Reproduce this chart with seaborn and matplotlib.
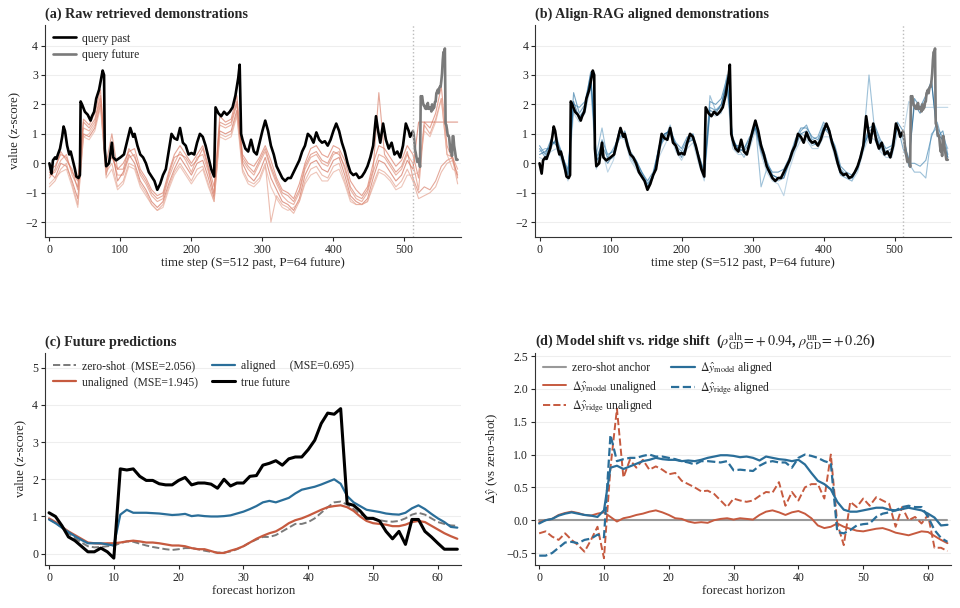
import numpy as np
import matplotlib
matplotlib.use("Agg")
import matplotlib.pyplot as plt
import seaborn as sns

# ---- query series (panels a, b) ----
query_t = [0, 3, 5, 8, 10, 12, 15, 18, 20, 22, 25, 28, 30, 33, 36, 38, 41, 43, 44, 46, 50, 54, 58, 60,
           63, 66, 70, 73, 75, 77, 78, 80, 84, 88, 90, 94, 100, 105, 110, 114, 118, 120, 124, 128,
           132, 136, 140, 144, 148, 152, 156, 160, 164, 168, 172, 176, 180, 184, 188, 192, 196, 200,
           204, 208, 212, 216, 220, 224, 228, 232, 234, 238, 242, 246, 250, 254, 258, 262, 266, 268,
           270, 272, 276, 280, 284, 288, 292, 296, 300, 304, 308, 312, 316, 320, 324, 328, 332, 336,
           340, 344, 348, 352, 356, 360, 364, 368, 372, 376, 380, 384, 388, 392, 396, 400, 404, 408,
           412, 416, 420, 424, 428, 432, 436, 440, 444, 448, 452, 456, 460, 463, 466, 470, 474, 478,
           482, 486, 490, 494, 498, 502, 506, 508, 511]
query_v = [0.0, -0.35, 0.1, 0.2, 0.15, 0.3, 0.5, 0.9, 1.25, 1.1, 0.6, 0.3, 0.4, 0.1, -0.2, -0.45, -0.5,
           -0.4, 2.1, 2.0, 1.75, 1.65, 1.45, 1.6, 1.75, 2.2, 2.5, 2.9, 3.15, 3.0, 0.5, -0.1, 0.0, 0.7,
           0.2, 0.1, 0.2, 0.3, 0.8, 1.2, 0.9, 1.0, 0.6, 0.3, 0.2, 0.0, -0.3, -0.45, -0.6, -0.9, -0.7,
           -0.4, -0.2, 0.4, 1.0, 0.85, 0.8, 1.2, 0.7, 0.6, 0.3, 0.35, 0.3, 0.7, 1.0, 0.9, 0.6, 0.2,
           -0.2, -0.45, 1.9, 1.7, 1.6, 1.75, 1.65, 1.75, 1.9, 2.3, 2.9, 3.35, 1.0, 0.8, 0.5, 0.4, 0.8,
           0.4, 0.3, 0.7, 1.1, 1.45, 1.1, 0.6, 0.3, -0.1, -0.3, -0.5, -0.6, -0.5, -0.5, -0.3, -0.1,
           0.1, 0.4, 0.6, 1.0, 0.9, 0.7, 1.05, 0.8, 0.7, 0.75, 0.6, 0.8, 1.1, 1.35, 1.1, 0.7, 0.4,
           0.0, -0.3, -0.4, -0.35, -0.5, -0.45, -0.3, -0.1, 0.2, 0.6, 1.6, 1.1, 0.7, 1.35, 0.8, 0.5,
           0.7, 0.3, 0.4, 0.2, 0.6, 1.35, 1.1, 0.9, 1.05]

# ---- forecast horizon series (panels c, d) ----
horizon = list(range(64))
true_future = [1.1, 1.0, 0.75, 0.45, 0.35, 0.2, 0.05, 0.05, 0.15, 0.05, -0.12, 2.28, 2.25, 2.28, 2.08,
               1.97, 1.97, 1.88, 1.85, 1.85, 1.97, 2.05, 1.85, 1.9, 1.9, 1.87, 1.76, 2.0, 1.82, 1.9,
               1.9, 2.08, 2.1, 2.38, 2.43, 2.5, 2.38, 2.55, 2.6, 2.6, 2.8, 3.05, 3.5, 3.78, 3.75, 3.9,
               1.35, 1.3, 1.15, 0.95, 0.95, 0.88, 0.6, 0.4, 0.6, 0.25, 0.92, 0.92, 0.6, 0.45, 0.28,
               0.12, 0.12, 0.12]
pred_zero = [0.93, 0.83, 0.7, 0.55, 0.42, 0.3, 0.2, 0.17, 0.18, 0.2, 0.22, 0.28, 0.33, 0.32, 0.27,
             0.22, 0.18, 0.15, 0.12, 0.1, 0.12, 0.15, 0.15, 0.12, 0.08, 0.05, 0.03, 0.03, 0.06, 0.12,
             0.2, 0.3, 0.38, 0.45, 0.45, 0.5, 0.6, 0.7, 0.8, 0.8, 0.85, 0.95, 1.1, 1.25, 1.38, 1.4,
             1.32, 1.2, 1.07, 0.98, 0.93, 0.9, 0.87, 0.86, 0.88, 0.95, 1.05, 1.1, 1.05, 0.95, 0.85,
             0.8, 0.76, 0.75]
pred_unaligned = [0.95, 0.85, 0.72, 0.6, 0.5, 0.4, 0.3, 0.28, 0.27, 0.28, 0.28, 0.3, 0.33, 0.35, 0.33,
                  0.3, 0.3, 0.28, 0.25, 0.22, 0.22, 0.2, 0.15, 0.12, 0.12, 0.07, 0.02, 0.02, 0.08,
                  0.13, 0.2, 0.3, 0.4, 0.48, 0.55, 0.6, 0.7, 0.82, 0.9, 0.95, 1.02, 1.1, 1.18, 1.25,
                  1.28, 1.3, 1.25, 1.15, 1.0, 0.88, 0.82, 0.8, 0.78, 0.74, 0.74, 0.78, 0.85, 0.88,
                  0.85, 0.75, 0.65, 0.55, 0.47, 0.4]
pred_aligned = [0.92, 0.82, 0.7, 0.58, 0.47, 0.37, 0.28, 0.28, 0.28, 0.25, 0.22, 1.05, 1.18, 1.1, 1.1,
                1.1, 1.09, 1.08, 1.06, 1.04, 1.05, 1.07, 1.01, 1.03, 1.01, 1.0, 1.0, 1.01, 1.03, 1.08,
                1.13, 1.2, 1.28, 1.38, 1.42, 1.38, 1.44, 1.5, 1.62, 1.72, 1.76, 1.8, 1.86, 1.93, 2.0,
                1.88, 1.55, 1.38, 1.28, 1.18, 1.15, 1.12, 1.08, 1.06, 1.05, 1.1, 1.22, 1.3, 1.2, 1.07,
                0.95, 0.85, 0.72, 0.7]
mse = {"zero": 2.056, "unaligned": 1.945, "aligned": 0.695}

shift_model_aln = [-0.05, 0.0, 0.02, 0.07, 0.1, 0.12, 0.1, 0.08, 0.07, 0.05, 0.15, 0.8, 0.83, 0.78, 0.82,
                   0.86, 0.9, 0.92, 0.95, 0.93, 0.92, 0.92, 0.9, 0.91, 0.9, 0.92, 0.95, 0.97, 0.99, 0.99,
                   0.98, 0.96, 0.97, 0.95, 0.91, 0.97, 0.95, 0.93, 0.92, 0.9, 0.92, 0.85, 0.72, 0.6,
                   0.55, 0.47, 0.28, 0.16, 0.13, 0.13, 0.15, 0.17, 0.19, 0.19, 0.16, 0.15, 0.17, 0.19,
                   0.17, 0.15, 0.1, 0.04, -0.08, -0.07]
shift_ridge_aln = [-0.54, -0.54, -0.5, -0.42, -0.34, -0.33, -0.35, -0.3, -0.28, -0.22, -0.26, 1.3, 0.9,
                   0.93, 0.95, 0.95, 0.98, 1.0, 0.97, 0.97, 0.95, 0.93, 0.9, 0.88, 0.85, 0.9, 0.9, 0.89,
                   0.88, 0.9, 0.76, 0.77, 0.76, 0.75, 0.83, 0.88, 0.9, 0.88, 0.88, 0.8, 0.95, 1.0, 0.98,
                   0.95, 0.9, 0.87, -0.18, -0.2, -0.15, -0.08, -0.06, -0.05, 0.05, 0.1, 0.12, 0.15, 0.2,
                   0.22, 0.2, 0.2, 0.05, -0.15, -0.27, -0.33]
shift_model_un = [-0.03, 0.0, 0.02, 0.08, 0.11, 0.13, 0.11, 0.08, 0.07, 0.1, 0.12, 0.05, -0.02, 0.03,
                  0.05, 0.08, 0.1, 0.13, 0.15, 0.12, 0.08, 0.03, 0.02, -0.02, -0.04, -0.03, -0.04, 0.0,
                  0.02, 0.03, 0.01, 0.03, 0.02, 0.01, 0.08, 0.13, 0.15, 0.12, 0.08, 0.12, 0.14, 0.1,
                  0.03, -0.08, -0.12, -0.1, -0.05, -0.1, -0.13, -0.16, -0.17, -0.15, -0.13, -0.12,
                  -0.15, -0.19, -0.21, -0.23, -0.2, -0.17, -0.18, -0.24, -0.3, -0.35]
shift_ridge_un = [-0.2, -0.17, -0.25, -0.3, -0.2, -0.3, -0.38, -0.48, -0.3, -0.1, -0.58, 0.8, 1.7, 0.65,
                  0.92, 0.8, 0.92, 0.77, 0.82, 0.77, 0.7, 0.72, 0.6, 0.55, 0.5, 0.44, 0.45, 0.4, 0.3,
                  0.2, 0.33, 0.3, 0.28, 0.3, 0.37, 0.43, 0.42, 0.58, 0.22, 0.43, 0.3, 0.5, 0.55, 0.55,
                  0.33, 1.0, -0.05, -0.38, 0.28, 0.2, 0.33, 0.22, 0.35, 0.3, 0.25, -0.1, 0.2, 0.0, 0.05,
                  -0.05, 0.08, -0.42, -0.42, -0.47]
rho_aln, rho_un = 0.94, 0.26

# ---- retrieved demonstrations, sampled every 8 steps ----
demo_t = list(range(0, 576, 8)) + [575]
raw_demos = [
    [-0.2, -0.1, 0.3, 0.2, -0.3, -0.6, 1.5, 1.3, 1.7, 2.5, -0.1, 0.2, -0.2, 0.0, 0.4, 0.5,
     -0.2, -0.5, -0.9, -1.1, -1.0, -0.3, 0.3, 0.6, 0.3, 0.0, 0.3, 0.6, -0.1, -0.8, 1.6, 1.4,
     1.5, 2.3, 0.3, 0.0, -0.1, 0.2, 0.6, 0.1, -0.5, -0.9, -1.0, -1.2, -0.7, 0.0, 0.5, 0.6,
     0.3, 0.2, 0.6, 0.5, 0.1, -0.6, -0.9, -1.1, -0.8, 0.0, 0.6, 0.5, 0.2, -0.1, 0.1, 0.6,
     0.3, -0.5, 1.4, 1.2, 1.7, 2.6, 0.6, 0.1, -0.4],
    [-0.4, -0.3, 0.1, 0.3, -0.4, -0.8, 1.2, 1.1, 1.4, 2.2, -0.2, 0.3, -0.4, -0.4, 0.2, 0.3,
     -0.4, -0.7, -1.1, -1.3, -1.2, -0.5, 0.0, 0.4, 0.1, -0.3, 0.2, 0.3, -0.3, -1.0, 1.3, 1.2,
     1.3, 2.0, 0.1, -0.2, -0.4, 0.0, 0.4, -0.2, -0.7, -1.1, -1.3, -1.4, -1.0, -0.2, 0.2, 0.3,
     0.0, -0.1, 0.3, 0.4, -0.2, -0.9, -1.2, -1.3, -1.0, -0.3, 0.3, 0.2, -0.1, -0.4, -0.2, 0.3,
     0.0, -0.9, 1.3, 1.0, 1.5, 2.2, 0.3, 0.2, -0.2],
    [-0.3, -0.5, 0.0, -0.1, -0.6, -1.2, 1.0, 0.9, 1.2, 2.0, -0.4, 0.5, -0.6, -0.3, 0.3, 0.0,
     -0.6, -0.9, -1.3, -1.5, -1.3, -0.7, -0.2, 0.2, -0.1, -0.4, 0.0, 0.1, -0.5, -1.2, 1.1, 1.0,
     1.1, 1.8, 0.0, -0.4, -0.6, -0.3, 0.2, -0.5, -0.9, -1.3, -1.4, -1.6, -1.2, -0.4, 0.0, 0.1,
     -0.2, -0.3, 0.1, 0.2, -0.4, -1.1, -1.3, -1.4, -1.2, -0.5, 0.1, 0.0, -0.3, -0.6, -0.4, 0.1,
     -0.2, 1.4, 1.4, 1.4, 1.4, 1.4, 1.4, 1.4, 1.4],
    [-0.8, -0.6, -0.2, 0.0, -0.7, -1.4, 0.9, 1.0, 1.3, 2.1, -0.3, 0.0, -0.8, -0.6, 0.0, -0.1,
     -0.7, -1.0, -1.4, -1.6, -1.4, -0.8, -0.3, 0.0, -0.3, -0.6, -0.2, -0.1, -0.7, -1.3, 1.0, 0.9,
     1.0, 1.7, -0.2, -0.6, -0.7, -0.5, 0.0, -2.0, -1.1, -1.4, -1.5, -1.7, -1.3, -0.6, -0.2, -0.1,
     -0.4, -0.5, -0.1, 0.0, -0.6, -1.2, -1.4, -1.4, -1.3, -0.7, -0.2, -0.3, -0.5, -0.8, -0.6, -0.2,
     -0.6, -1.2, -1.1, -1.0, -0.8, -0.3, 0.0, 0.1, -0.7],
    [-0.5, -0.2, 0.4, 0.1, -0.2, -0.9, 1.4, 1.2, 1.5, 2.3, 0.0, 1.0, -0.2, -0.2, 0.5, 0.2,
     -0.3, -0.6, -1.0, -1.2, -1.1, -0.4, 0.2, 0.3, 0.2, -0.1, 0.1, 0.5, -0.2, -1.1, 1.4, 1.3,
     1.4, 2.1, 0.2, -0.1, -0.3, 0.1, 0.5, -0.1, -0.6, -1.0, -1.1, -1.3, -0.9, -0.1, 0.3, 0.4,
     0.1, 0.0, 0.4, 0.3, -0.1, -0.8, -1.1, -1.2, -0.9, -0.2, 2.4, 0.3, 0.0, -0.3, -0.1, 0.4,
     -0.5, -1.0, -0.8, -0.9, -0.6, -0.1, 0.1, 0.2, -0.5],
    [-0.7, -0.5, -0.3, -0.2, -0.8, -1.5, 0.9, 0.8, 1.1, 1.9, -0.5, -0.2, -0.9, -0.7, -0.1, -0.2,
     -0.8, -1.1, -1.4, -1.6, -1.5, -0.9, -0.4, -0.1, -0.4, -0.7, -0.4, -0.2, -0.8, -1.3, 0.9, 0.8,
     0.9, 1.6, -0.3, -0.7, -0.8, -0.6, -0.1, -0.8, -1.2, -1.5, -1.6, -1.5, -1.3, -0.7, -0.4, -0.3,
     -0.6, -0.6, -0.3, -0.2, -0.7, -1.3, -1.4, -1.4, -1.3, -0.8, -0.3, -0.4, -0.6, -0.9, -0.8, -0.4,
     -0.4, -0.3, 1.1, 0.9, 1.4, 2.2, 0.3, -0.2, -0.3],
]
aligned_demos = [
    [0.6, 0.3, 0.8, 0.6, 0.1, -0.4, 2.4, 1.7, 2.0, 2.9, 0.0, 0.8, 0.3, 0.4, 0.8, 1.1,
     0.4, 0.1, -0.3, -0.6, -0.3, 0.5, 1.0, 1.1, 0.7, 0.5, 0.9, 0.8, 0.3, -0.3, 2.1, 2.0,
     2.2, 2.9, 0.6, 0.6, 0.5, 0.9, 1.2, 0.5, 0.0, -0.3, -0.3, -0.2, 0.2, 0.8, 1.2, 1.2,
     0.9, 0.8, 1.2, 1.0, 0.6, -0.1, -0.3, -0.4, -0.2, 0.6, 1.2, 1.3, 0.8, 0.5, 0.6, 1.4,
     1.1, -0.1, 2.2, 1.9, 2.3, 2.8, 0.9, 1.1, 0.3],
    [0.4, 0.5, 0.5, 0.9, 0.3, -0.3, 1.9, 1.6, 1.8, 2.7, 0.3, 1.2, 0.1, 0.2, 1.1, 0.9,
     0.2, -0.1, -0.4, -0.7, -0.5, 0.6, 0.8, 1.3, 0.5, 0.3, 0.6, 1.0, 0.1, -0.5, 2.3, 1.8,
     1.9, 3.0, 0.7, 0.5, 0.2, 0.6, 1.3, -0.8, -0.2, -0.5, -0.6, -0.5, 0.0, 0.5, 1.0, 0.9,
     0.6, 0.7, 1.3, 1.2, 0.3, -0.4, -0.5, -0.6, -0.1, 0.7, 3.0, 1.1, 0.5, 0.3, 0.3, 1.3,
     0.8, 0.0, -0.3, -0.3, -0.5, 1.0, 1.2, 0.9, 0.5],
    [0.2, 0.1, 0.4, 0.5, 0.0, -0.6, 1.7, 1.4, 1.7, 2.6, -0.2, 0.5, -0.3, 0.1, 0.9, 0.8,
     0.1, -0.2, -0.5, -0.8, -0.5, 0.2, 0.6, 1.0, 0.4, 0.1, 0.5, 0.7, 0.0, -0.6, 1.7, 1.6,
     1.7, 2.5, 0.5, 0.3, 0.3, 0.5, 1.1, 0.3, -0.3, -0.6, -0.7, -1.1, -0.2, 0.4, 0.8, 0.8,
     0.5, 0.5, 0.9, 0.9, 0.2, -0.4, -0.5, -0.6, -0.3, 0.4, 0.9, 0.8, 0.4, 0.2, 0.2, 1.0,
     0.9, 2.1, 1.9, 1.8, 1.9, 1.9, 1.9, 1.9, 1.9],
    [0.5, 0.2, 0.7, 0.7, 0.2, -0.2, 2.0, 1.9, 2.1, 3.0, 0.2, 0.6, 0.2, 0.5, 0.9, 1.0,
     0.3, 0.1, -0.3, -0.7, -0.4, 0.4, 0.9, 1.2, 0.6, 0.4, 0.8, 1.0, 0.3, -0.3, 1.9, 1.8,
     2.0, 2.8, 0.9, 0.4, 0.5, 0.8, 1.3, 0.7, 0.1, -0.4, -0.5, -0.4, 0.1, 0.7, 1.1, 1.3,
     0.8, 0.9, 1.4, 1.1, 0.5, -0.2, -0.4, -0.5, -0.2, 0.5, 1.1, 1.2, 0.7, 0.4, 0.5, 1.3,
     0.5, 0.0, 0.0, -0.1, 0.1, 0.9, 1.4, 0.7, 0.2],
    [0.3, 0.4, 0.6, 0.8, 0.3, -0.4, 2.1, 1.5, 1.9, 3.1, 0.1, 0.3, 0.0, 0.3, 1.1, 0.9,
     0.3, 0.0, -0.4, -0.8, -0.4, 0.5, 1.0, 1.1, 0.6, 0.2, 0.7, 0.8, 0.2, -0.4, 1.8, 1.7,
     2.0, 2.7, 0.8, 0.5, 0.4, 0.7, 1.2, 0.4, -0.1, -0.4, -0.5, -0.5, 0.1, 0.6, 1.0, 1.1,
     0.7, 0.6, 1.2, 1.1, 0.4, -0.3, -0.4, -0.5, -0.1, 0.6, 1.0, 1.0, 0.6, 0.3, 0.4, 1.2,
     0.9, 0.1, 2.0, 1.7, 2.2, 2.8, 1.0, 0.8, 0.2],
]

S, P = 512, 64
ORANGE = "#c65a3f"
BLUE = "#2a6e99"
GRAY = "#7a7a7a"
raw_colors = ["#d9735c", "#e08a73", "#cf6650", "#e29a86", "#d67a64", "#e6a896"]
aln_colors = ["#2d74a3", "#6aa0c4", "#9cc0d9", "#3f83b0", "#1f5f8c"]

sns.set_style("ticks")
plt.rcParams["font.family"] = ["Liberation Serif", "DejaVu Serif"]
plt.rcParams["mathtext.fontset"] = "stix"
plt.rcParams["axes.edgecolor"] = "#333333"

TITLE_FS, LABEL_FS, TICK_FS, LEG_FS = 10.2, 9.3, 8.6, 8.4

fig, axes = plt.subplots(2, 2, figsize=(9.6, 6.08), dpi=100)
fig.subplots_adjust(left=0.047, right=0.991, top=0.959, bottom=0.071, wspace=0.178, hspace=0.547)

future_t = [S + h for h in horizon]
leg_kw = dict(loc="upper left", frameon=False, fontsize=LEG_FS, handlelength=2.0,
              handletextpad=0.5, borderaxespad=0.25, labelspacing=0.35)


def demo_panel(ax, demos, colors, title, show_legend):
    for d, c in zip(demos, colors):
        sns.lineplot(x=demo_t, y=d, ax=ax, color=c, lw=0.8, alpha=0.65)
    sns.lineplot(x=query_t, y=query_v, ax=ax, color="black", lw=1.9, label="query past")
    sns.lineplot(x=future_t, y=true_future, ax=ax, color=GRAY, lw=1.9, label="query future")
    ax.axvline(S, color="#bbbbbb", ls=":", lw=1.0)
    ax.set_xlim(-6, 580)
    ax.set_ylim(-2.5, 4.7)
    ax.set_yticks(range(-2, 5))
    ax.set_xticks(range(0, 501, 100))
    ax.set_xlabel("time step (S=%d past, P=%d future)" % (S, P), fontsize=LABEL_FS, labelpad=1)
    ax.set_title(title, loc="left", fontsize=TITLE_FS, fontweight="bold", pad=5)
    if show_legend:
        ax.legend(**leg_kw)
    else:
        ax.get_legend().remove()


demo_panel(axes[0, 0], raw_demos, raw_colors, "(a) Raw retrieved demonstrations", True)
axes[0, 0].set_ylabel("value (z-score)", fontsize=LABEL_FS)
demo_panel(axes[0, 1], aligned_demos, aln_colors, "(b) Align-RAG aligned demonstrations", False)
axes[0, 1].set_ylabel("")

# (c) future predictions
ax = axes[1, 0]
sns.lineplot(x=horizon, y=pred_zero, ax=ax, color=GRAY, lw=1.4, ls="--",
             label="zero-shot  (MSE=%.3f)" % mse["zero"])
sns.lineplot(x=horizon, y=pred_unaligned, ax=ax, color=ORANGE, lw=1.6,
             label="unaligned  (MSE=%.3f)" % mse["unaligned"])
sns.lineplot(x=horizon, y=pred_aligned, ax=ax, color=BLUE, lw=1.6,
             label="aligned     (MSE=%.3f)" % mse["aligned"])
sns.lineplot(x=horizon, y=true_future, ax=ax, color="black", lw=2.2, label="true future")
ax.set_xlim(-0.6, 63.6)
ax.set_ylim(-0.3, 5.4)
ax.set_yticks(range(0, 6))
ax.set_xlabel("forecast horizon", fontsize=LABEL_FS, labelpad=1)
ax.set_ylabel("value (z-score)", fontsize=LABEL_FS)
ax.set_title("(c) Future predictions", loc="left", fontsize=TITLE_FS, fontweight="bold", pad=5)
ax.legend(ncol=2, columnspacing=1.2, **leg_kw)

# (d) model shift vs ridge shift
ax = axes[1, 1]
sns.lineplot(x=horizon, y=[0.0] * len(horizon), ax=ax, color="#999999", lw=1.5, label="zero-shot anchor")
sns.lineplot(x=horizon, y=shift_model_un, ax=ax, color=ORANGE, lw=1.4,
             label=r"$\Delta\hat{y}_{\rm model}$ unaligned")
sns.lineplot(x=horizon, y=shift_ridge_un, ax=ax, color=ORANGE, lw=1.4, ls="--",
             label=r"$\Delta\hat{y}_{\rm ridge}$ unaligned")
sns.lineplot(x=horizon, y=shift_model_aln, ax=ax, color=BLUE, lw=1.6,
             label=r"$\Delta\hat{y}_{\rm model}$ aligned")
sns.lineplot(x=horizon, y=shift_ridge_aln, ax=ax, color=BLUE, lw=1.6, ls="--",
             label=r"$\Delta\hat{y}_{\rm ridge}$ aligned")
ax.set_xlim(-0.6, 63.6)
ax.set_ylim(-0.68, 2.55)
ax.set_yticks(np.arange(-0.5, 2.51, 0.5))
ax.set_xlabel("forecast horizon", fontsize=LABEL_FS, labelpad=1)
ax.set_ylabel(r"$\Delta\hat{y}$ (vs zero-shot)", fontsize=LABEL_FS)
ax.set_title(r"(d) Model shift vs. ridge shift  ($\rho^{\rm aln}_{\rm GD}\!=\!+%.2f$, $\rho^{\rm un}_{\rm GD}\!=\!+%.2f$)"
             % (rho_aln, rho_un), loc="left", fontsize=TITLE_FS, fontweight="bold", pad=5)
ax.legend(ncol=2, columnspacing=1.2, **leg_kw)

for ax in axes.flat:
    ax.grid(axis="y", color="#eeeeee", lw=0.8)
    ax.set_axisbelow(True)
    ax.tick_params(labelsize=TICK_FS, length=3, pad=2)
    sns.despine(ax=ax)

fig.savefig("out.png", dpi=100)
